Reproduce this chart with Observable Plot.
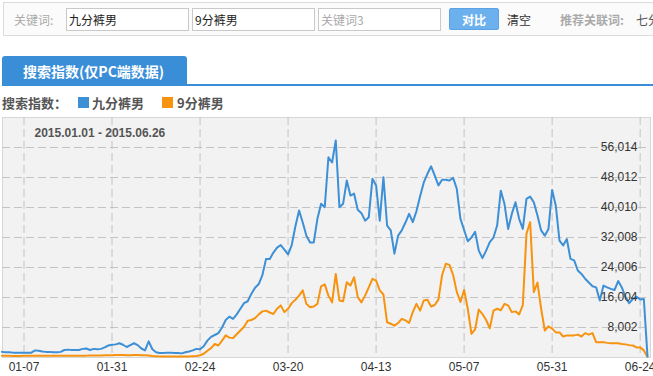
<!DOCTYPE html>
<html><head><meta charset="utf-8">
<script src="https://cdn.jsdelivr.net/npm/d3@7"></script>
<script src="https://cdn.jsdelivr.net/npm/@observablehq/plot@0.6"></script>
<style>
html,body{margin:0;padding:0;background:#fff;width:653px;height:376px;overflow:hidden;font-family:"Noto Sans CJK SC","Microsoft YaHei",sans-serif;}
#page{position:relative;width:653px;height:376px;}
.abs{position:absolute;white-space:nowrap;}
#bar{left:3px;top:2px;width:680px;height:32px;border:1px solid #dcdcdc;background:#fbfbfb;}
.inp{height:21px;border:1px solid #c9c9c9;background:#fff;font-size:12px;line-height:21px;padding-left:2px;box-sizing:border-box;color:#222;}
#chart{left:0;top:112px;}
</style></head><body><div id="page">
<div id="bar" class="abs"></div>
<div class="abs" style="left:14px;top:10px;font-size:12px;color:#aaa;line-height:20px;">关键词:</div>
<div class="abs inp" style="left:66px;top:8px;width:123px;height:23px;"></div>
<div class="abs inp" style="left:192px;top:8px;width:123px;height:23px;"></div>
<div class="abs inp" style="left:318px;top:8px;width:123px;height:23px;color:#aaa;"></div>
<div class="abs" style="left:449px;top:8px;width:50px;height:22px;background:#6cb1ee;border:1px solid #5aa2e4;border-radius:2px;color:#fff;font-weight:bold;font-size:12px;line-height:22px;text-align:center;box-sizing:border-box;">对比</div>
<div class="abs" style="left:507px;top:10px;font-size:12px;color:#333;line-height:20px;">清空</div>
<div class="abs" style="left:560px;top:10px;font-size:12px;color:#aaa;line-height:20px;font-weight:bold;">推荐关联词:</div>
<div class="abs" style="left:636px;top:10px;font-size:12px;color:#555;line-height:20px;">七分</div>
<div class="abs" style="left:2px;top:56px;width:185px;height:30px;background:#3a8ed8;border-radius:3px 3px 0 0;"></div>
<div class="abs" style="left:23px;top:59px;font-size:14px;line-height:24px;color:#fff;font-weight:bold;">搜索指数(仅PC端数据)</div>
<div class="abs" style="left:2px;top:84px;width:651px;height:2px;background:#3a8ed8;"></div>
<div class="abs" style="left:2px;top:93px;font-size:13px;line-height:20px;color:#555;font-weight:bold;">搜索指数：</div>
<div class="abs" style="left:78px;top:97px;width:11px;height:11px;background:#3d8fd6;"></div>
<div class="abs" id="lg1" style="left:92px;top:93px;font-size:13px;line-height:20px;color:#555;font-weight:bold;"></div>
<div class="abs" style="left:162px;top:97px;width:11px;height:11px;background:#f7930f;"></div>
<div class="abs" id="lg2" style="left:177px;top:93px;font-size:13px;line-height:20px;color:#555;font-weight:bold;"></div>
<div id="chart" class="abs"></div>
</div>
<script>
const keywords = ["九分裤男", "9分裤男", "关键词3"];
const rangeLabel = "2015.01.01 - 2015.06.26";
const startDate = "2015-01-01";
const endDate = "2015-06-26";
const xTickLabels = ["01-07", "01-31", "02-24", "03-20", "04-13", "05-07", "05-31", "06-24"];
const yTicks = [8002, 16004, 24006, 32008, 40010, 48012, 56014];
const yMax = 64016;

const blueValues = [
1500,1400,1400,1300,1300,1300,1300,1300,1300,1900,
1800,1600,1500,1500,1400,1400,1500,2000,2100,2000,
2000,2000,2300,2400,2000,2300,2200,2300,2700,3200,
3400,3500,3800,3400,2800,3300,3800,3300,2400,1900,
4300,2200,1400,1200,1200,1300,1300,1200,1200,1100,
1400,1600,1900,2300,2200,3000,4500,5500,6000,6500,
8000,10000,10900,10300,11500,13000,14500,15000,17000,18600,
19600,22000,26300,26300,28000,29300,30000,28800,27500,30000,
35000,39200,36000,32500,30700,30700,37000,41000,40100,53400,
52000,57900,40100,41000,47200,43200,43700,39400,38500,36500,
37400,47700,45900,36500,48100,35200,33900,27700,32500,33900,
36000,38300,36100,39000,43000,46700,49000,51000,48500,45900,
47400,47400,47200,47900,45000,37000,34000,31000,32000,33500,
28500,26500,28500,30800,32000,35200,44500,41000,34300,38300,
41400,37000,34300,42300,42900,41400,37900,33900,32500,34300,
44700,40500,31200,29900,31600,26300,25900,23200,22300,21000,
20000,19000,18700,15200,19200,18700,18300,18000,20400,18700,
16100,14500,15600,16200,15500,15600,300];

const orangeValues = [
450,450,450,400,400,400,450,450,450,450,
500,500,500,500,500,500,500,500,500,500,
500,500,500,500,550,550,550,550,600,600,
600,650,650,650,600,600,650,650,600,600,
550,400,350,300,300,300,300,300,300,300,
300,300,350,400,600,1000,1800,2500,3600,3200,
4500,5900,5300,5200,6200,7200,8200,9800,10000,10500,
11500,12300,12500,12000,11600,13000,13900,12100,13000,14500,
15400,16500,17900,14300,13400,13600,14300,19000,19500,16500,
14700,22300,15200,15000,20100,19200,21400,16100,14700,16500,
18700,21000,20500,17900,16800,9400,9000,8500,9200,10300,
9900,9200,12100,14300,12500,15200,15400,13600,14000,15500,
22000,25000,24700,22000,17500,14800,18000,13000,6300,7500,
12800,11600,10000,7800,12500,13000,12600,14300,13900,12100,
12300,11500,14000,33000,36100,17400,20000,13000,7200,8300,
7700,6700,6700,5600,5900,5900,5900,6100,5600,6500,
6100,6500,4100,4100,4100,3900,3800,3800,3800,3600,
3500,3300,3200,2700,2700,1900,200];

document.getElementById("lg1").textContent = keywords[0];
document.getElementById("lg2").textContent = keywords[1];
const inps = document.querySelectorAll(".inp");
inps.forEach((el, i) => el.textContent = keywords[i]);

const parse = d3.utcParse("%Y-%m-%d");
const t0 = parse(startDate), t1 = parse(endDate);
const dates = d3.utcDay.range(t0, d3.utcDay.offset(t1, 1));
const data = dates.map((d, i) => ({date: d, blue: blueValues[i], orange: orangeValues[i]}));
const xTicks = xTickLabels.map(s => parse("2015-" + s));

const chart = Plot.plot({
  width: 653, height: 264,
  marginLeft: 2, marginRight: 3, marginTop: 5, marginBottom: 19,
  style: {fontFamily: "'Liberation Sans', Arial, sans-serif", fontSize: "12px", background: "transparent", overflow: "visible"},
  x: {type: "utc", domain: [t0, t1], range: [1.5, 647], axis: null},
  y: {domain: [0, yMax], range: [245, 5], axis: null},
  marks: [
    Plot.frame({fill: "#f2f2f2", stroke: "#d6d6d6"}),
    Plot.gridX(xTicks, {stroke: "#c4c4c4", strokeOpacity: 1, strokeDasharray: "8,4", strokeWidth: 1}),
    Plot.gridY(yTicks, {stroke: "#c4c4c4", strokeOpacity: 1, strokeDasharray: "8,4", strokeWidth: 1}),
    Plot.line(data, {x: "date", y: "orange", stroke: "#f7930f", strokeWidth: 2}),
    Plot.line(data, {x: "date", y: "blue", stroke: "#3d8fd6", strokeWidth: 2}),
    Plot.text(yTicks, {y: d => d, text: d => d3.format(",")(d), frameAnchor: "right", textAnchor: "end", dx: -13, fill: "#333", fontSize: 12}),
    Plot.text(xTicks, {x: d => d, text: (d, i) => xTickLabels[i], frameAnchor: "bottom", lineAnchor: "middle", dy: 10, fill: "#333", fontSize: 12}),
    Plot.text([rangeLabel], {frameAnchor: "top-left", textAnchor: "start", lineAnchor: "middle", dx: 32, dy: 16, fill: "#555", fontWeight: "bold", fontSize: 12})
  ]
});
document.getElementById("chart").appendChild(chart);
</script></body></html>
